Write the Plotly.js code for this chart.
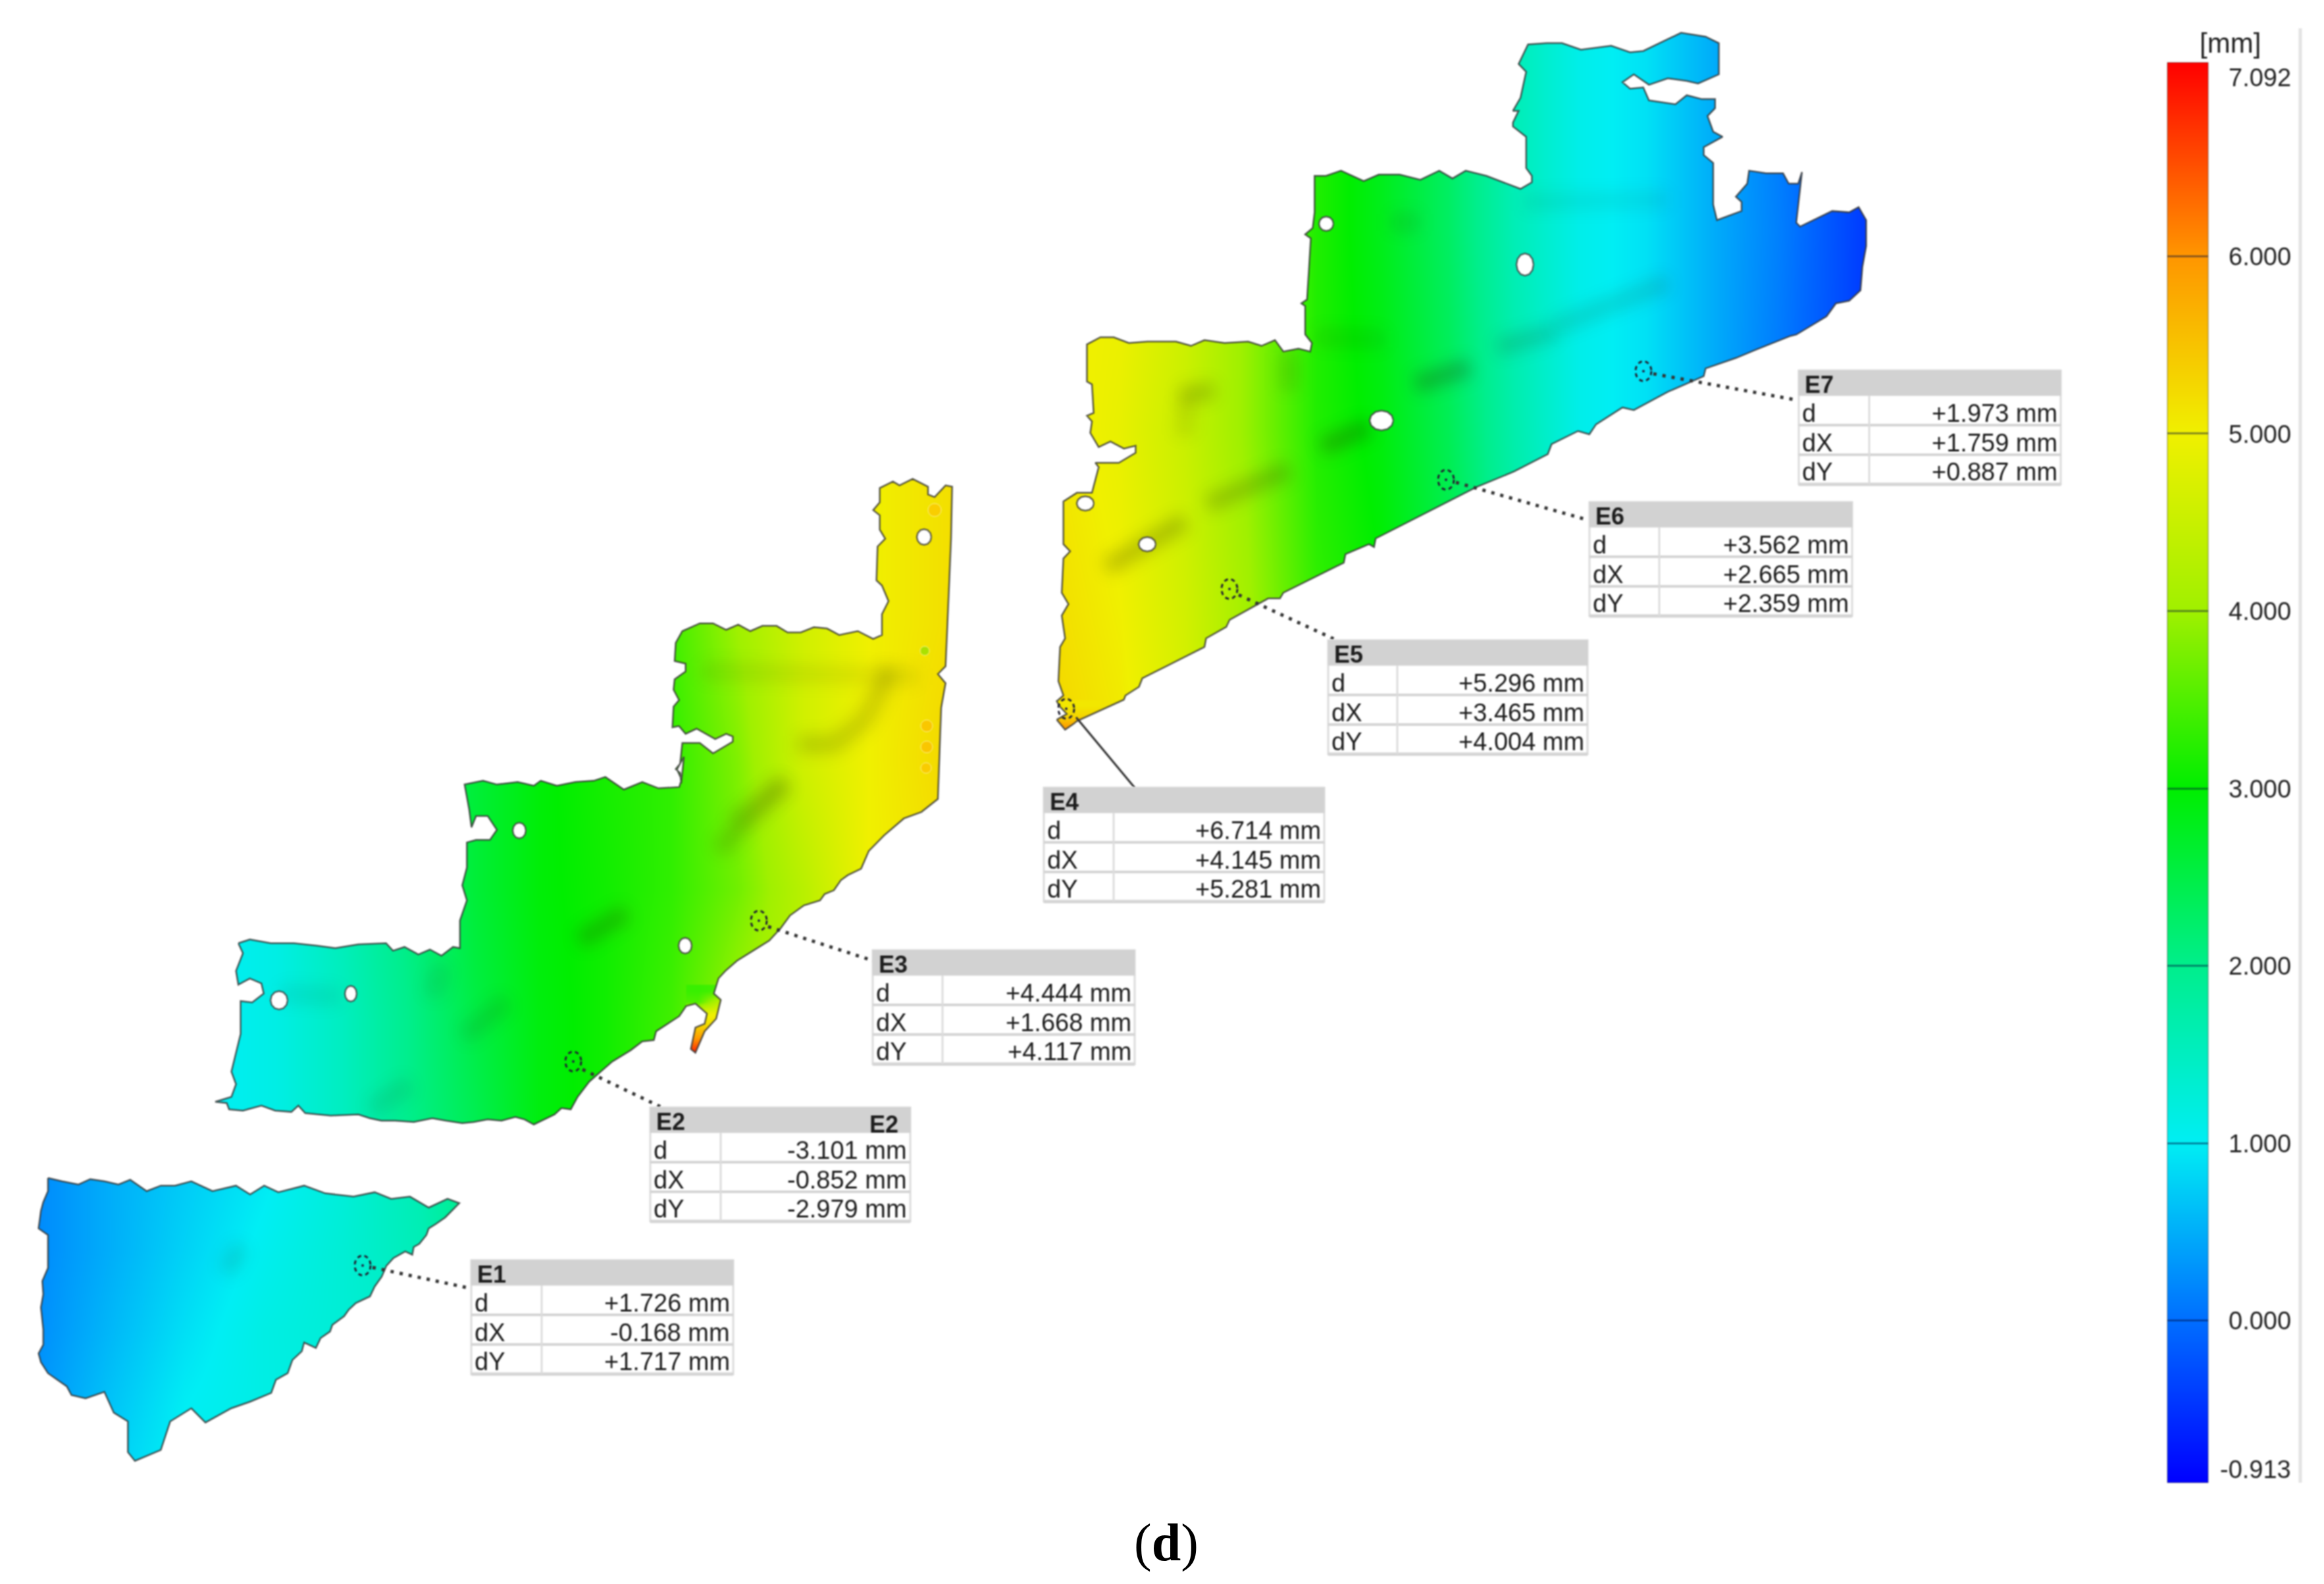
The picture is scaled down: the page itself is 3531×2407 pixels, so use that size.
<!DOCTYPE html>
<html><head><meta charset="utf-8">
<script src="https://cdn.plot.ly/plotly-3.0.1.min.js"></script>
<style>html,body{margin:0;padding:0;background:#fff}#chart{width:3531px;height:2407px}</style>
</head><body><div id="chart"></div>
<script>
// ---------- colour scale ----------
const zMin = -0.913, zMax = 7.092;
const scaleValues = [-0.913, 0, 1, 2, 3, 4, 5, 6, 7.092];
const scaleColors = ['#0000ff','#006eff','#00eef4','#00ee8c','#00ee00','#a0f000','#f0f000','#ff9600','#ff0000'];
const tickValues = [0,1,2,3,4,5,6];
const tickLabels = ['7.092','6.000','5.000','4.000','3.000','2.000','1.000','0.000','-0.913'];
const tickLabelValues = [7.01,6,5,4,3,2,1,0,-0.84];

// ---------- surface values (mm) ----------
const xE1 = [40,160,280,400,520,640,720];
const yE1 = [1780,1900,2020,2140,2240];
const zE1 = [[.18,.48,.72,.95,1.25,1.65,2.1],[.18,.48,.78,1.05,1.3,1.6,2.0],[.2,.55,.88,1.15,1.3,1.45,1.7],[.25,.65,1.0,1.15,1.25,1.3,1.4],[.3,.75,1.05,1.15,1.2,1.3,1.4]];
const xMid = [320,420,520,620,720,820,920,1020,1120,1220,1320,1450];
const yMid = [730,950,1150,1350,1550,1730];
const zMid = [[1,1.2,1.6,2.2,2.8,3.1,3.3,3.5,4.0,4.6,5.0,5.2],[1,1.2,1.6,2.2,2.7,3.0,3.2,3.4,4.0,4.6,5.0,5.2],[1,1.2,1.6,2.2,2.6,2.95,3.15,3.3,3.8,4.6,5.0,5.3],[1,1.15,1.6,2.1,2.6,2.95,3.1,3.3,3.7,4.3,5.0,5.2],[1,1.15,1.5,2.0,2.5,2.9,3.1,3.4,4.0,4.3,5.0,5.2],[1,1.15,1.5,2.0,2.4,2.9,3.1,3.4,4.0,4.3,5,5.2]];
const xTail = [1060,1095];
const yTail = [1505,1522,1540,1555,1575,1597,1615];
const zTail = [[3.35,3.45],[3.5,4.4],[4.9,5],[5.2,5.2],[5.9,5.9],[6.8,6.8],[7,7]];
const xTop = [1600,1700,1800,1900,2000,2100,2200,2300,2400,2500,2600,2700,2850];
const yTop = [30,350,650,900,1130];
const zTop = [[5,5,4.6,3.9,3.2,2.8,2.3,1.6,1.1,.9,.5,.1,-.5],[5,5,4.6,3.9,3.2,2.8,2.3,1.6,1.1,.9,.5,.15,-.5],[5.1,4.9,4.5,3.9,3.2,2.9,2.4,1.7,1.1,.9,.5,.1,-.5],[5.2,5.0,4.6,4.0,3.3,3,2.5,1.8,1.2,.9,.5,.1,-.5],[5.3,5.1,4.7,4,3.3,3,2.5,1.8,1.2,.9,.5,.1,-.5]];
const xTip = [1605,1650];
const yTip = [1072,1088,1104,1125];
const zTip = [[5.1,5.1],[5.3,5.3],[5.9,5.9],[6,6]];

// ---------- outlines: readings in crop coordinates, each with its crop frame ----------
function frame(ox,oy,sx,sy,p){const o=[];for(let i=0;i<p.length;i+=2)o.push([ox+p[i]/sx,oy+p[i+1]/sy]);return o;}
const edgeE1 = [60,90,90,105,125,120,150,95,180,105,210,120,235,98,270,150,300,125,330,125,365,105,410,150,460,125,490,165,520,125,550,155,605,125,650,160,710,175,755,155,790,185,830,175,870,225,910,185,935,205,905,270,885,300,870,320,865,350,850,390,838,405,835,440,820,425,795,455,780,490,770,540,755,585,745,630,715,660,700,690,690,720,665,760,660,790,640,820,630,865,605,840,600,880,580,920,570,980,545,1010,535,1070,490,1110,450,1140,395,1205,365,1140,320,1200,300,1330,245,1380,230,1340,230,1200,200,1160,180,1065,140,1095,110,1080,100,1040,80,1010,60,980,45,930,40,890,50,850,50,780,45,680,50,620,48,560,60,500,60,440,60,350,40,320,45,240,50,200,60,150];
const edgeMidA = [60,740,85,725,130,740,180,740,230,750,270,760,320,745,380,740,395,770,420,755,450,785,475,765,500,790,525,755,540,760,540,650,555,570,545,510,555,440,555,340,575,330,605,330,620,290,600,235,575,235,565,280,560,210,550,110,590,95,620,110,665,100,700,115,715,95,750,115,790,100,830,95,855,80,895,130,935,100,970,125,1015,120,1020,90,1010,50,1025,0];
const edgeMidB = [165,1240,160,1200,140,1185,160,1165,170,1085,250,1085,310,1125,400,1080,400,1060,370,1050,320,1070,235,1030,185,1050,155,1020,125,1025,130,945,155,920,130,880,135,840,185,810,185,780,135,770,140,700,170,655,250,625,310,625,370,650,425,630,480,655,535,635,600,635,650,660,710,660,770,640,830,645,885,670,970,655,1040,685,1080,670,1080,590,1110,540,1080,480,1055,460,1060,330,1095,300,1070,265,1070,210,1040,190,1070,160,1070,105,1130,80,1160,95,1220,70,1290,100,1290,130,1320,140,1370,95,1400,100,1395,300,1385,500,1370,790,1335,820,1370,855,1350,950,1335,1300,1260,1350,1180,1375,1090,1440,1020,1500,985,1568];
const edgeMidC = [1380,470,1365,490,1350,530,1330,545,1320,570,1285,590,1255,630,1235,680,1210,730,1175,770,1140,810,1115,850,1100,880,1090,940,1105,965,1095,1040,1070,1090,1050,1175,1040,1160,1050,1075,1070,1060,1075,1020,1050,980,1030,990,1015,1030,965,1090,960,1125,935,1130,910,1165,870,1210,845,1250,820,1290,795,1350,780,1400,760,1395,745,1420,700,1460,680,1440,660,1430,630,1445,600,1440,570,1450,545,1455,510,1445,480,1435,440,1450,400,1445,370,1445,345,1435,320,1420,260,1425,205,1415,190,1385,175,1410,140,1405,110,1385,70,1405,40,1400,35,1375,10,1370,45,1350,55,1300,45,1250,65,1100,65,970,90,975,115,940,110,900,85,880,60,905,55,850,70,780];
const edgeTopA = [50,1415,80,1395,60,1370,50,1350,70,1330,55,1280,60,1160,75,1130,65,1050,85,1010,65,970,70,850,90,825,70,800,70,650,110,620,155,620,175,530,165,515,235,515,285,480,285,455,250,465,210,440,175,460,150,410,155,370,140,350,160,340,155,240,140,230,140,100,180,75,220,75,265,95,320,90,360,90,405,90,450,105,490,85,550,95,620,90,660,105,700,85,725,125,770,115,805,125,810,95,790,65];
const edgeTopB = [40,1200,40,1100,30,1090,45,1075,50,960,55,840,40,825,60,800,65,740,65,600,95,600,135,580,195,620,235,595,290,595,345,615,395,580,430,610,465,580,520,600,610,650,640,625,640,600,625,570,625,450,590,410,590,395,605,350,590,350,610,300,625,200,605,170,630,95,680,90,720,90,770,115,850,100,900,125,935,120,1035,50,1100,65,1135,90,1135,210,1080,245,1050,235,1000,225,950,250,910,210,880,240,900,265,935,260,950,310,1020,325,1050,290,1090,305,1125,305,1125,340,1105,370,1120,430,1145,450,1095,490,1095,520,1120,550,1120,710,1130,770,1195,735,1195,700,1180,680,1210,630,1215,580,1260,590,1305,590,1320,630,1345,630,1355,585,1340,780,1350,795,1435,735,1480,740,1505,720,1525,770,1525,870,1515,950,1510,1040,1480,1080,1445,1090,1420,1140,1340,1210,1325,1215,1230,1270,1180,1300,1100,1340,1095,1370,1000,1430,910,1500,880,1490,810,1555];
const edgeTopC = [200,480,170,465,100,525,90,570,0,650];
const edgeTopD = [1300,600,1000,780,995,810,980,800,910,835,905,865,725,970,715,990,680,990,565,1065,555,1090,495,1130,490,1160,305,1270,295,1300,255,1330,250,1345,110,1420,100,1430,75,1450];

const outlineE1 = frame(30,1760,1.4,3,edgeE1);
const outlineMid = [...frame(320,1150,1.4255,2.613,edgeMidA),...frame(980,700,3,2.529,edgeMidB),...frame(320,1150,1.4255,2.613,edgeMidC)];
const outlineTop = [...frame(1580,480,1.96,2.306,edgeTopA),...frame(1960,30,1.742,2.529,edgeTopB),...frame(2300,500,1.742,3,edgeTopC),...frame(1580,480,1.96,2.306,edgeTopD)];

// ---------- holes: centre x, centre y, radius x, radius y ----------
const holes = [[789,1262,10,12],[1041,1437,10,12],[533,1510,9,12],[424,1520,13,14],[1404,816,11,12],[2099,639,18,15],[1743,827,13,11],[1649,765,13,11],[2015,340,11,11],[2317,402,13,17]];

// ---------- soft creases across the surface ----------
const creases = [
 [[2009,679],[2080,649]],[[1682,862],[1800,792]],[[1835,766],[1958,714]],[[2151,584],[2233,558]],
 [[1794,601],[1845,593]],[[1804,601],[1799,662]],[[1958,536],[1958,593]],[[2276,528],[2362,504]],
 [[2362,497],[2534,429]],[[2316,307],[2534,303]],[[2000,512],[2103,516]],[[2115,338],[2155,338]],
 [[881,1429],[951,1387]],[[1092,1292],[1190,1188]],[[706,1575],[769,1521]],[[565,1686],[622,1647]],
 [[657,1514],[671,1468]],[[425,1510],[516,1514]],[[1067,1020],[1177,1024],[1395,1028]],
 [[1213,1131],[1267,1131],[1313,1095],[1353,1016]],[[1113,1250],[1197,1190]],[[344,1933],[366,1893]]];
const creaseStrength = [.28,.24,.22,.28,.2,.1,.12,.16,.13,.07,.1,.12,.24,.17,.13,.11,.1,.08,.09,.18,.13,.12];

// ---------- callouts ----------
const calloutNames = ['E1','E2','E3','E4','E5','E6','E7'];
const dValues  = ['+1.726 mm','-3.101 mm','+4.444 mm','+6.714 mm','+5.296 mm','+3.562 mm','+1.973 mm'];
const dXValues = ['-0.168 mm','-0.852 mm','+1.668 mm','+4.145 mm','+3.465 mm','+2.665 mm','+1.759 mm'];
const dYValues = ['+1.717 mm','-2.979 mm','+4.117 mm','+5.281 mm','+4.004 mm','+2.359 mm','+0.887 mm'];
const boxLeft  = [716,988,1326,1586,2018,2415,2733];
const boxRight = [1114,1383,1724,2012,2412,2814,3131];
const boxTop   = [1915,1683,1444,1197,973,763,563];
const boxDiv   = [823,1095,1432,1692,2123,2521,2840];
const markerX  = [551,871,1153,1620,1868,2197,2497];
const markerY  = [1923,1613,1399,1077,895,729,564];
const leaderFromX = [566,885,1167,1635,1882,2212,2512];
const leaderFromY = [1926,1625,1408,1090,904,733,568];
const leaderToX = [716,1004,1327,1724,2029,2412,2725];
const leaderToY = [1958,1682,1460,1197,972,790,607];
const rowLabels = ['d','dX','dY'];

// ---------- traces ----------
const colorscale = scaleValues.map((v,i)=>[(v-zMin)/(zMax-zMin),scaleColors[i]]);
const heat = (x,y,z)=>({type:'heatmap',x,y,z,zsmooth:'best',coloraxis:'coloraxis',hoverinfo:'skip'});
const data = [heat(xMid,yMid,zMid),heat(xE1,yE1,zE1),heat(xTail,yTail,zTail),heat(xTop,yTop,zTop),heat(xTip,yTip,zTip)];

creases.forEach((c,i)=>data.push({type:'scatter',mode:'lines',x:c.map(p=>p[0]),y:c.map(p=>p[1]),line:{color:'rgba(30,40,0,'+creaseStrength[i]+')',width:26},hoverinfo:'skip'}));

const spotsX=[1408,1408,1407,1420,1405], spotsY=[1103,1135,1167,775,989];
data.push({type:'scatter',mode:'markers',x:spotsX,y:spotsY,marker:{size:[18,18,16,20,14],color:['#ffb400','#ffb400','#ffbe00','#ffbe00','#70e000'],opacity:.55},hoverinfo:'skip'});

function signed(p){let a=0;for(let i=0;i<p.length;i++){const q=p[(i+1)%p.length];a+=p[i][0]*q[1]-q[0]*p[i][1];}return a;}
function orient(p,positive){const s=signed(p)>0;return s===positive?p:[...p].reverse();}
const W=3531,H=2407;
const page=[[0,0],[W,0],[W,H],[0,H]];
const pageSign=signed(page)>0;
const maskPolys=[page,...[outlineE1,outlineMid,outlineTop].map(o=>orient(o,!pageSign))];
const mx=[],my=[];
maskPolys.forEach(p=>{p.forEach(q=>{mx.push(q[0]);my.push(q[1]);});mx.push(p[0][0]);my.push(p[0][1]);mx.push(null);my.push(null);});
data.push({type:'scatter',mode:'lines',x:mx,y:my,fill:'toself',fillcolor:'#ffffff',line:{width:0,color:'#ffffff',simplify:false},hoverinfo:'skip'});

[outlineE1,outlineMid,outlineTop].forEach(o=>data.push({type:'scatter',mode:'lines',x:[...o.map(p=>p[0]),o[0][0]],y:[...o.map(p=>p[1]),o[0][1]],line:{color:'rgba(50,50,50,.8)',width:2.5,simplify:false},hoverinfo:'skip'}));

const holeUnit=[[1,0],[.87,.5],[.5,.87],[0,1],[-.5,.87],[-.87,.5],[-1,0],[-.87,-.5],[-.5,-.87],[0,-1],[.5,-.87],[.87,-.5],[1,0]];
holes.forEach(h=>data.push({type:'scatter',mode:'lines',x:holeUnit.map(u=>h[0]+u[0]*h[2]),y:holeUnit.map(u=>h[1]+u[1]*h[3]),fill:'toself',fillcolor:'#ffffff',line:{color:'rgba(60,60,60,.8)',width:2.5},hoverinfo:'skip'}));

calloutNames.forEach((n,i)=>data.push({type:'scatter',mode:'lines',x:[leaderFromX[i],leaderToX[i]],y:[leaderFromY[i],leaderToY[i]],line:{color:'#333',width:n==='E4'?3:5,dash:n==='E4'?'solid':'5px,9px'},hoverinfo:'skip'}));
data.push({type:'scatter',mode:'markers',x:markerX,y:markerY,marker:{size:4,color:'#224'},hoverinfo:'skip'});

// ---------- boxes and text ----------
const shapes=[], annotations=[];
const TXT={family:'"Liberation Sans", Arial, sans-serif',size:38,color:'#1c1c1c'};
const rowH=45, headH=38, grey='#d2d2d2';
const note=(x,y,text,xa,font)=>annotations.push({x,y,xref:'x',yref:'y',text,showarrow:false,xanchor:xa,yanchor:'middle',align:xa,font:font||TXT,borderpad:0});
calloutNames.forEach((n,i)=>{
  const l=boxLeft[i],r=boxRight[i],t=boxTop[i],b=t+headH+3*rowH;
  const rect=(x0,y0,x1,y1,fill,lc,lw)=>shapes.push({type:'rect',xref:'x',yref:'y',x0,y0,x1,y1,fillcolor:fill,line:{color:lc,width:lw},layer:'above'});
  const ln=(x0,y0,x1,y1,c,w)=>shapes.push({type:'line',xref:'x',yref:'y',x0,y0,x1,y1,line:{color:c,width:w},layer:'above'});
  rect(l,t,r,b,'#ffffff','#dcdcdc',3);
  rect(l,t,r,t+headH,grey,grey,1);
  for(let k=1;k<=3;k++) ln(l,t+headH+k*rowH,r,t+headH+k*rowH,'#d4d4d4',k===3?5:4);
  ln(boxDiv[i],t+headH,boxDiv[i],b,'#dcdcdc',3);
  note(l+8,t+21,'<b>'+n+'</b>','left',{...TXT,size:36});
  const vals=[dValues[i],dXValues[i],dYValues[i]];
  rowLabels.forEach((lab,k)=>{
    note(l+4,t+65+k*rowH-(k===2?1:0),lab,'left');
    note(r-4,t+65+k*rowH-(k===2?1:0),vals[k],'right');
  });
  shapes.push({type:'circle',xref:'x',yref:'y',x0:markerX[i]-12,x1:markerX[i]+12,y0:markerY[i]-15,y1:markerY[i]+15,line:{color:'#223',width:3,dash:'6px,5px'},layer:'above'});
});
note(1343,1708,'<b>E2</b>','center',{...TXT,size:36});

const CB={family:'"Liberation Sans", Arial, sans-serif',size:38,color:'#222'};
tickLabels.forEach((t,i)=>note(3482,2007-269.5*tickLabelValues[i],t,'right',CB));
note(3388,65,'[mm]','center',{...CB,size:42});
note(1772,2344,'(<b>d</b>)','center',{family:'"Liberation Serif", "Times New Roman", serif',size:80,color:'#000'});

// light rule right of the colour bar
shapes.push({type:'line',xref:'x',yref:'y',x0:3495,x1:3495,y0:43,y1:2253,line:{color:'#e2e2e2',width:5},layer:'above'});

const layout={
  width:W,height:H,margin:{l:0,r:0,t:0,b:0,pad:0},
  paper_bgcolor:'#fff',plot_bgcolor:'#fff',showlegend:false,
  xaxis:{range:[0,W],visible:false,fixedrange:true},
  yaxis:{range:[H,0],visible:false,fixedrange:true},
  coloraxis:{cmin:zMin,cmax:zMax,colorscale,colorbar:{
    thicknessmode:'pixels',thickness:62,lenmode:'pixels',len:2158,
    x:3293/W,xanchor:'left',y:1-95/H,yanchor:'top',xpad:0,ypad:0,
    outlinewidth:1,outlinecolor:'rgba(0,0,0,.45)',borderwidth:0,
    tickmode:'array',tickvals:tickValues,ticktext:tickValues.map(()=>''),showticklabels:false,
    ticks:'inside',ticklen:62,tickwidth:3,tickcolor:'rgba(0,10,60,.45)'}},
  shapes,annotations
};
Plotly.newPlot('chart',data,layout,{staticPlot:true,displayModeBar:false}).then(gd=>{
  // soften the surface creases and give the scanned-image softness of the reference; the caption stays sharp
  const groups=gd.querySelectorAll('.scatterlayer .trace');
  creases.forEach((c,i)=>{ if(groups[i]) groups[i].style.filter='blur(12px)'; });
  const soft=el=>{ el.style.filter='blur(1.1px)'; };
  gd.querySelectorAll('.cartesianlayer, .shapelayer, .colorbar').forEach(soft);
  const notes=gd.querySelectorAll('.annotation');
  notes.forEach(n=>{ if(!/\(d\)/.test(n.textContent)) soft(n); });
});
</script></body></html>
